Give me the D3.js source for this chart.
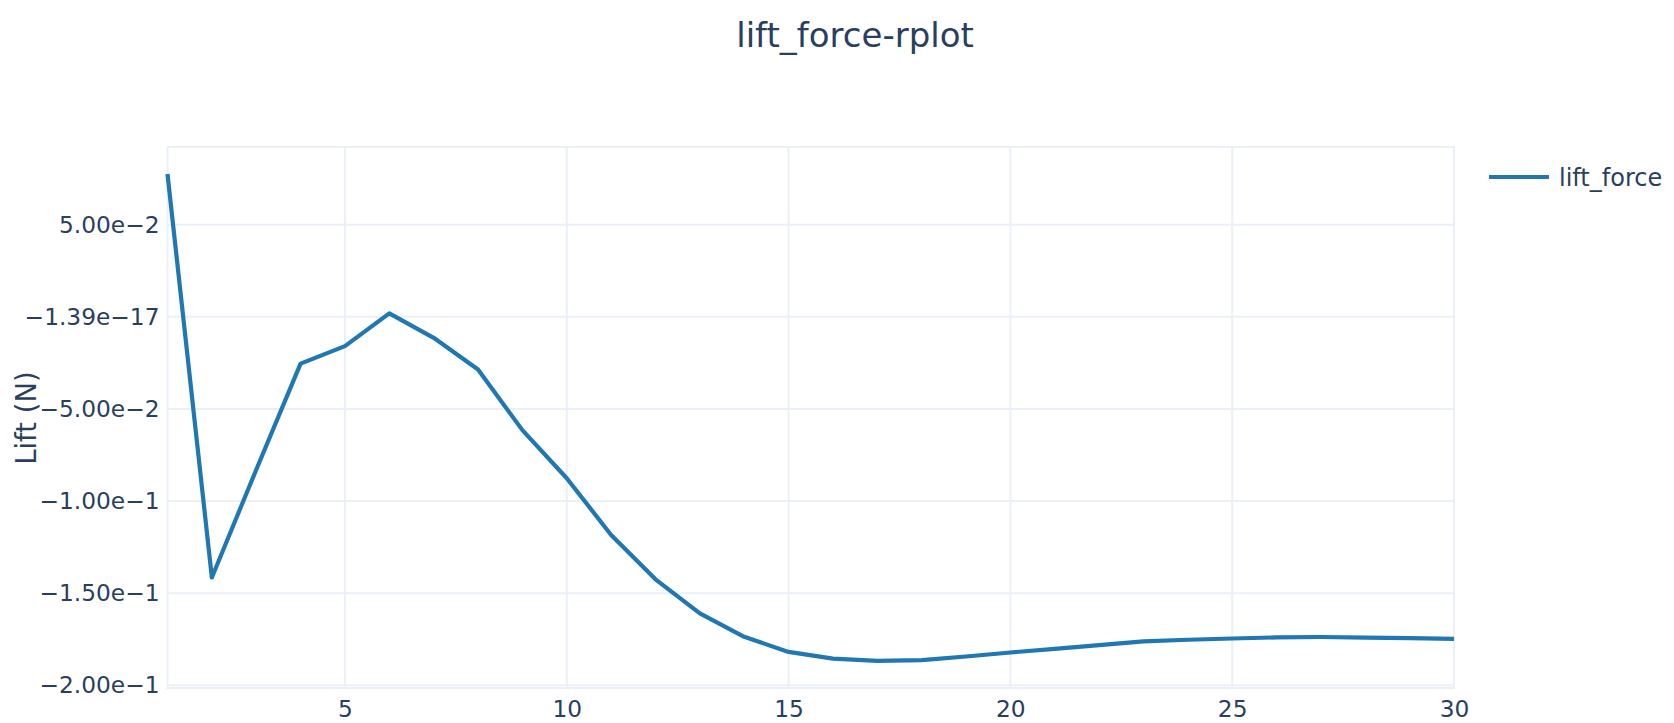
<!DOCTYPE html>
<html>
<head>
<meta charset="utf-8">
<script src="https://cdn.jsdelivr.net/npm/d3@7"></script>
<style>
  html, body { margin: 0; padding: 0; background: #fff; }
  svg { display: block; font-family: "DejaVu Sans", Verdana, sans-serif; }
</style>
</head>
<body>
<svg id="chart" width="1674" height="723"></svg>
<script>
// Lift force per step
const steps = [1, 2, 3, 4, 5, 6, 7, 8, 9, 10,
               11, 12, 13, 14, 15, 16, 17, 18, 19, 20,
               21, 22, 23, 24, 25, 26, 27, 28, 29, 30];
const liftForce = [0.0775, -0.1415, -0.083, -0.0254, -0.0159, 0.0019, -0.0114, -0.0286, -0.0615, -0.0876,
                   -0.1184, -0.1425, -0.161, -0.1737, -0.1819, -0.1855, -0.1868, -0.1864, -0.1844, -0.1822,
                   -0.1802, -0.1782, -0.1762, -0.1753, -0.1746, -0.1740, -0.1738, -0.1741, -0.1744, -0.1748];

const xTickValues = [5, 10, 15, 20, 25, 30];
const yTickValues = [-0.2, -0.15, -0.1, -0.05, 0, 0.05];
const yTickLabels = ["\u22122.00e\u22121", "\u22121.50e\u22121", "\u22121.00e\u22121",
                     "\u22125.00e\u22122", "\u22121.39e\u221217", "5.00e\u22122"];

const seriesName = "lift_force";
const chartTitle = "lift_force-rplot";
const yTitle = "Lift (N)";

const textColor = "#2a3f5f";
const gridColor = "#ebf0f8";
const lineColor = "#1f77b4";
const tickFont = 23.3;

const plot = { left: 167.5, right: 1454, top: 147, bottom: 688 };

const svg = d3.select("#chart");

// x spans the data exactly; y is padded by 5% of the axis length on each side
const x = d3.scaleLinear()
  .domain(d3.extent(steps))
  .range([plot.left, plot.right]);

const [yMin, yMax] = d3.extent(liftForce);
const yPad = (yMax - yMin) * 0.05 / 0.9;
const y = d3.scaleLinear()
  .domain([yMin - yPad, yMax + yPad])
  .range([plot.bottom, plot.top]);

// grid
const grid = svg.append("g");
grid.selectAll("line.gx")
  .data(xTickValues)
  .join("line")
  .attr("class", "gx")
  .attr("x1", d => x(d)).attr("x2", d => x(d))
  .attr("y1", plot.top).attr("y2", plot.bottom)
  .attr("stroke", gridColor).attr("stroke-width", 2);
grid.selectAll("line.gy")
  .data(yTickValues)
  .join("line")
  .attr("class", "gy")
  .attr("x1", plot.left).attr("x2", plot.right)
  .attr("y1", d => y(d)).attr("y2", d => y(d))
  .attr("stroke", gridColor).attr("stroke-width", 2);

// frame around the plotting area
svg.append("rect")
  .attr("x", plot.left).attr("y", plot.top)
  .attr("width", plot.right - plot.left)
  .attr("height", plot.bottom - plot.top)
  .attr("fill", "none")
  .attr("stroke", gridColor)
  .attr("stroke-width", 2);

// axes (labels only, lines handled by the grid and frame)
const xAxis = d3.axisBottom(x)
  .tickValues(xTickValues)
  .tickFormat(d3.format("d"))
  .tickSize(0)
  .tickPadding(12);
const gx = svg.append("g")
  .attr("transform", `translate(0,${plot.bottom})`)
  .call(xAxis);
gx.select(".domain").remove();
gx.selectAll("text")
  .attr("fill", textColor)
  .attr("font-size", tickFont)
  .attr("font-family", "DejaVu Sans, Verdana, sans-serif");

const yAxis = d3.axisLeft(y)
  .tickValues(yTickValues)
  .tickFormat((d, i) => yTickLabels[i])
  .tickSize(0)
  .tickPadding(8);
const gy = svg.append("g")
  .attr("transform", `translate(${plot.left},0)`)
  .call(yAxis);
gy.select(".domain").remove();
gy.selectAll("text")
  .attr("fill", textColor)
  .attr("font-size", tickFont)
  .attr("font-family", "DejaVu Sans, Verdana, sans-serif");

// series line
const line = d3.line()
  .x((d, i) => x(steps[i]))
  .y(d => y(d));

svg.append("path")
  .datum(liftForce)
  .attr("d", line)
  .attr("fill", "none")
  .attr("stroke", lineColor)
  .attr("stroke-width", 4.2)
  .attr("stroke-linejoin", "round");

// title
svg.append("text")
  .attr("x", 855).attr("y", 47)
  .attr("text-anchor", "middle")
  .attr("fill", textColor)
  .attr("font-size", 34)
  .text(chartTitle);

// y-axis title
svg.append("text")
  .attr("transform", `translate(36,418) rotate(-90)`)
  .attr("text-anchor", "middle")
  .attr("fill", textColor)
  .attr("font-size", 27.5)
  .text(yTitle);

// legend
const legend = svg.append("g").attr("transform", "translate(1489,177)");
legend.append("line")
  .attr("x1", 0).attr("x2", 60)
  .attr("y1", 0).attr("y2", 0)
  .attr("stroke", lineColor)
  .attr("stroke-width", 4.2);
legend.append("text")
  .attr("x", 70).attr("y", 9)
  .attr("fill", textColor)
  .attr("font-size", 24)
  .text(seriesName);
</script>
</body>
</html>
